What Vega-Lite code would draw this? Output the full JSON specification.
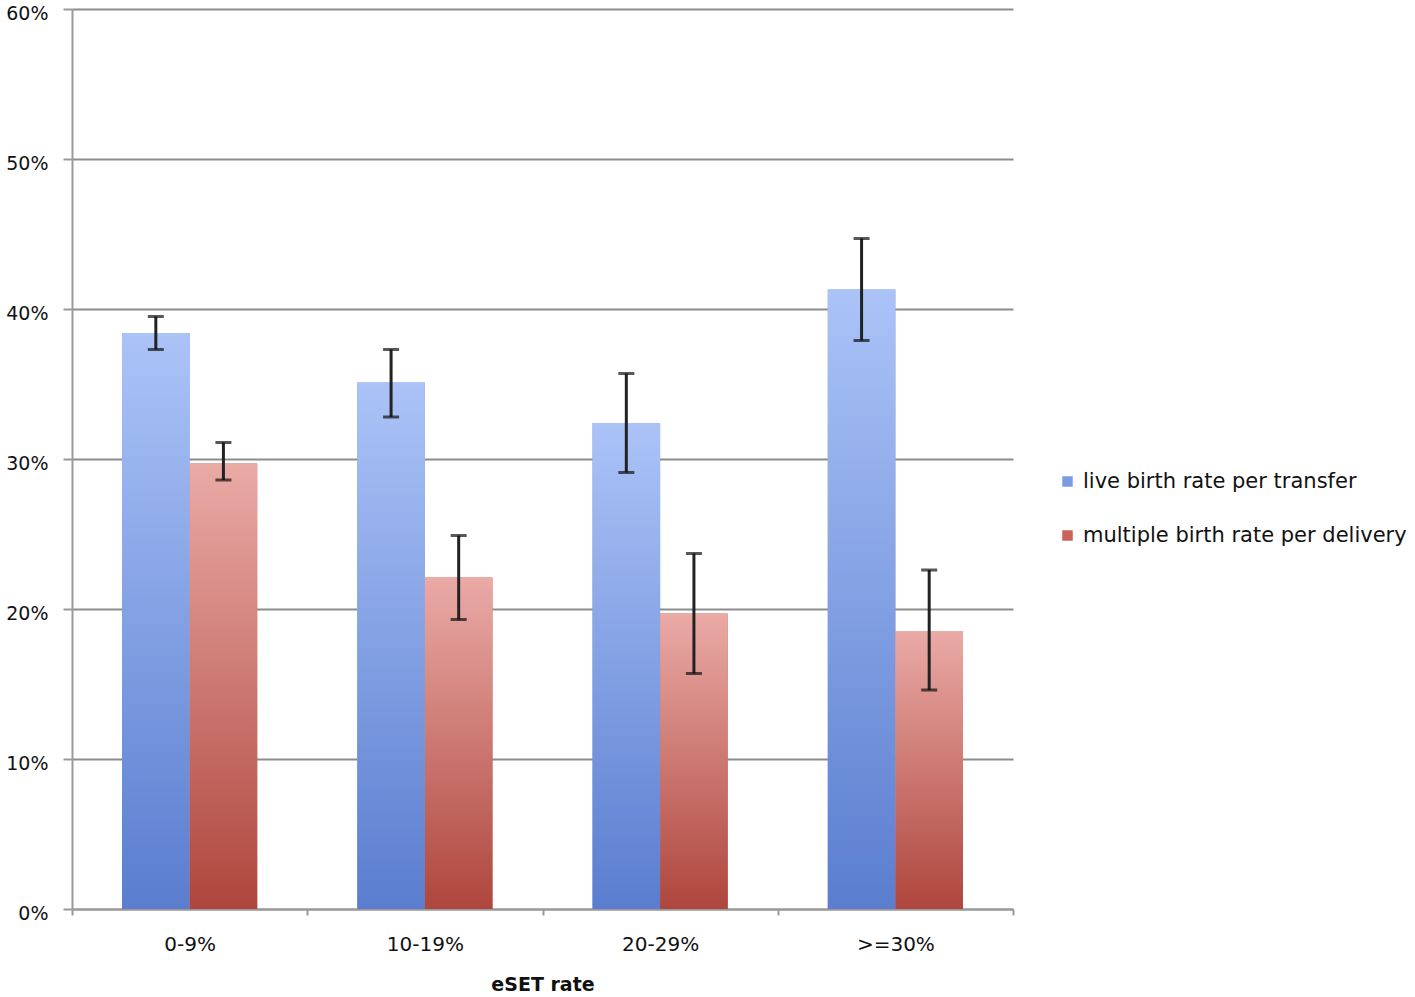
{
  "$schema": "https://vega.github.io/schema/vega-lite/v6.json",
  "width": 941,
  "height": 900,
  "autosize": "none",
  "padding": {"left": 72, "top": 9, "right": 402, "bottom": 88},
  "background": "white",
  "config": {
    "view": {"stroke": null},
    "font": "DejaVu Sans",
    "axis": {"labelFont": "DejaVu Sans", "titleFont": "DejaVu Sans"}
  },
  "data": {
    "values": [
      {"eset": "0-9%", "series": "live birth rate per transfer", "rate": 0.384, "lo": 0.373, "hi": 0.395},
      {"eset": "0-9%", "series": "multiple birth rate per delivery", "rate": 0.297, "lo": 0.286, "hi": 0.311},
      {"eset": "10-19%", "series": "live birth rate per transfer", "rate": 0.351, "lo": 0.328, "hi": 0.373},
      {"eset": "10-19%", "series": "multiple birth rate per delivery", "rate": 0.221, "lo": 0.193, "hi": 0.249},
      {"eset": "20-29%", "series": "live birth rate per transfer", "rate": 0.324, "lo": 0.291, "hi": 0.357},
      {"eset": "20-29%", "series": "multiple birth rate per delivery", "rate": 0.197, "lo": 0.157, "hi": 0.237},
      {"eset": ">=30%", "series": "live birth rate per transfer", "rate": 0.413, "lo": 0.379, "hi": 0.447},
      {"eset": ">=30%", "series": "multiple birth rate per delivery", "rate": 0.185, "lo": 0.146, "hi": 0.226}
    ]
  },
  "encoding": {
    "x": {
      "field": "eset", "type": "nominal", "sort": null,
      "scale": {"paddingInner": 0, "paddingOuter": 0},
      "axis": {
        "title": "eSET rate", "labelAngle": 0, "labelFontSize": 20, "labelColor": "#111",
        "labelPadding": 19, "tickBand": "extent", "tickSize": 6, "tickColor": "#999", "tickWidth": 2,
        "domainColor": "#9a9a9a", "domainWidth": 2, "grid": false,
        "titleFontSize": 19, "titleFontWeight": "bold", "titleColor": "#111", "titlePadding": 21
      }
    },
    "xOffset": {"field": "series", "type": "nominal", "scale": {"paddingInner": 0, "paddingOuter": 0.74}},
    "y": {
      "type": "quantitative",
      "scale": {"domain": [0, 0.6]},
      "axis": {
        "title": null, "format": ".0%", "values": [0, 0.1, 0.2, 0.3, 0.4, 0.5, 0.6],
        "labelFontSize": 19, "labelColor": "#111", "labelPadding": 15, "tickSize": 9, "labelOffset": 4,
        "tickColor": "#999", "tickWidth": 2, "domainColor": "#9a9a9a", "domainWidth": 2,
        "gridColor": "#8c8c8c", "gridWidth": 2
      }
    }
  },
  "layer": [
    {
      "mark": {"type": "bar"},
      "encoding": {
        "y": {"field": "rate", "type": "quantitative"},
        "color": {
          "field": "series", "type": "nominal",
          "scale": {"range": ["#7b9be2", "#c9625a"]},
          "legend": {
            "title": null, "orient": "none", "legendX": 985, "legendY": 462,
            "symbolType": "square", "symbolSize": 110, "symbolStrokeWidth": 0,
            "labelFontSize": 21, "labelColor": "#111", "labelFont": "DejaVu Sans",
            "labelLimit": 0, "rowPadding": 32, "labelOffset": 5
          }
        }
      }
    },
    {
      "transform": [{"filter": "datum.series === 'live birth rate per transfer'"}],
      "mark": {
        "type": "bar",
        "color": {
          "gradient": "linear", "x1": 0, "y1": 0, "x2": 0, "y2": 1,
          "stops": [{"offset": 0, "color": "#abc3f7"}, {"offset": 1, "color": "#5a7dcf"}]
        }
      },
      "encoding": {"y": {"field": "rate", "type": "quantitative"}}
    },
    {
      "transform": [{"filter": "datum.series === 'multiple birth rate per delivery'"}],
      "mark": {
        "type": "bar",
        "color": {
          "gradient": "linear", "x1": 0, "y1": 0, "x2": 0, "y2": 1,
          "stops": [{"offset": 0, "color": "#eaaaa6"}, {"offset": 1, "color": "#ae463d"}]
        }
      },
      "encoding": {"y": {"field": "rate", "type": "quantitative"}}
    },
    {
      "mark": {"type": "rule", "color": "#222", "strokeWidth": 3},
      "encoding": {
        "y": {"field": "lo", "type": "quantitative"},
        "y2": {"field": "hi"}
      }
    },
    {
      "mark": {"type": "tick", "color": "#111", "thickness": 3, "size": 16},
      "encoding": {"y": {"field": "lo", "type": "quantitative"}}
    },
    {
      "mark": {"type": "tick", "color": "#111", "thickness": 3, "size": 16},
      "encoding": {"y": {"field": "hi", "type": "quantitative"}}
    }
  ]
}
